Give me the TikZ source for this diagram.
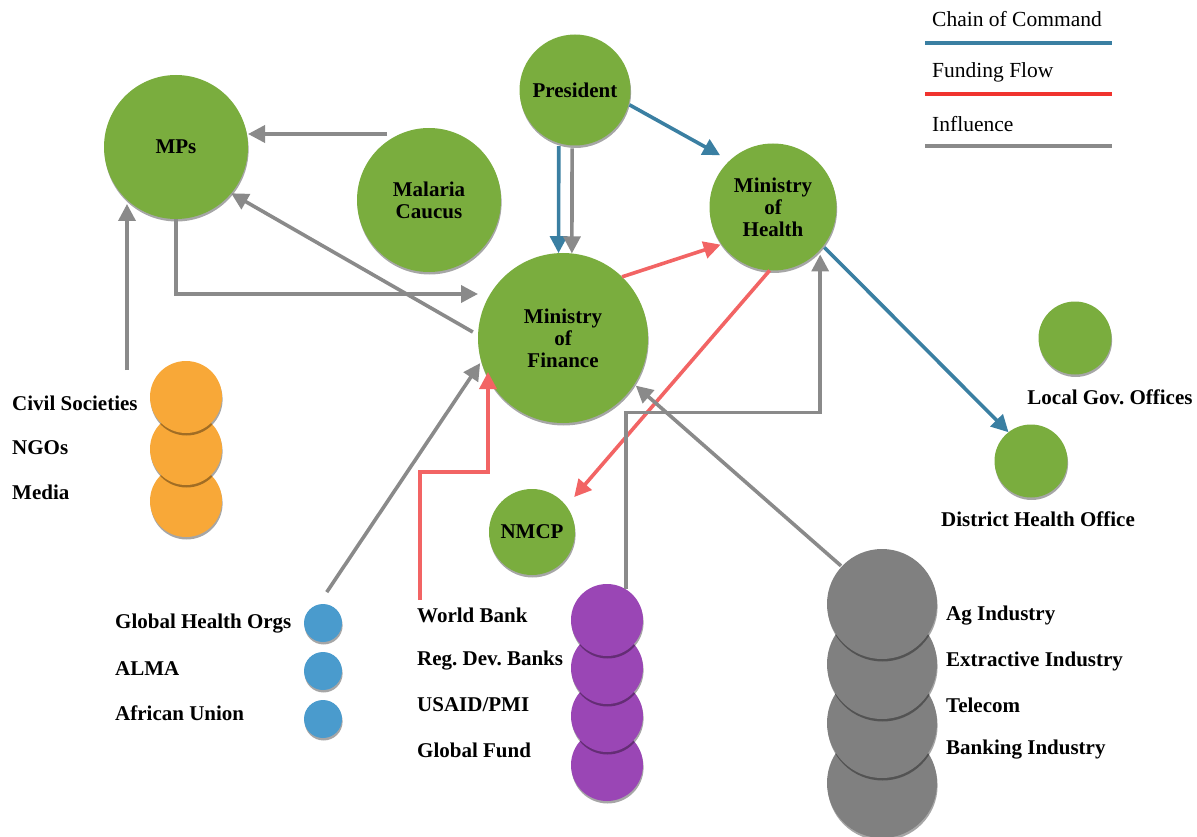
\documentclass[tikz,border=0pt]{standalone}
\usepackage{fontspec}
\setmainfont{Liberation Serif}
\usetikzlibrary{arrows.meta,shadows,calc}
\definecolor{cgreen}{HTML}{7AAD3E}
\definecolor{corange}{HTML}{F8A838}
\definecolor{cblue}{HTML}{4A9BCD}
\definecolor{cpurple}{HTML}{9A46B5}
\definecolor{cgrey}{HTML}{808080}
\definecolor{agrey}{HTML}{8A8A8A}
\definecolor{ablue}{HTML}{3A7FA2}
\definecolor{ared}{HTML}{F26464}
\definecolor{lred}{HTML}{F0332E}
\newcommand\lblfont{\fontsize{21}{22}\selectfont\bfseries}
\newcommand\legfont{\fontsize{21.5}{24}\selectfont}
\frenchspacing
\begin{document}
\begin{tikzpicture}[x=1pt,y=-1pt,
  bub/.style={circle, draw=none, outer sep=0pt, inner sep=0pt, align=center, font=\lblfont,
    drop shadow={shadow xshift=0.6pt, shadow yshift=-2.5pt, opacity=0.35, fill=black}},
  gbub/.style={bub, fill=cgreen},
  lab/.style={font=\lblfont, inner sep=0pt, anchor=west},
  tip/.style={-{Triangle[length=17pt,width=17pt]}},
  infl/.style={draw=agrey, line width=3.6pt, tip},
  cmd/.style={draw=ablue, line width=3.6pt, tip},
  fund/.style={draw=ared, line width=3.6pt, tip},
  legline/.style={line width=4pt}
]
\useasboundingbox (0,0) rectangle (1197,837);

% legend
\node[font=\legfont, inner sep=0pt, anchor=west] (lg1) at (932,19) {Chain of Command};
\node[font=\legfont, inner sep=0pt, anchor=west] (lg2) at (932,72) {Funding Flow};
\node[font=\legfont, inner sep=0pt, anchor=west] (lg3) at (932,124) {Influence};
\coordinate (l1a) at (925,43); \coordinate (l1b) at (1112,43);
\coordinate (l2a) at (925,94); \coordinate (l2b) at (1112,94);
\coordinate (l3a) at (925,146); \coordinate (l3b) at (1112,146);
\draw[legline, draw=ablue] (l1a) -- (l1b);
\draw[legline, draw=lred] (l2a) -- (l2b);
\draw[legline, draw=agrey] (l3a) -- (l3b);

% main nodes
\node[gbub, minimum size=144pt] (mps) at (176,147) {MPs};
\node[gbub, minimum size=144pt] (cauc) at (429,200) {Malaria\\Caucus};
\node[gbub, minimum size=111pt] (pres) at (575,90) {President};
\node[gbub, minimum size=127pt] (moh) at (773,207) {Ministry\\of\\Health};
\node[gbub, minimum size=170pt] (mof) at (563,338) {Ministry\\of\\Finance};
\node[gbub, minimum size=86pt] (nmcp) at (532,532) {NMCP};
\node[gbub, minimum size=73pt] (lgo) at (1075,338) {};
\node[gbub, minimum size=73pt] (dho) at (1031,461) {};
\node[font=\lblfont, inner sep=0pt] (lgolab) at (1110,397) {Local Gov. Offices};
\node[font=\lblfont, inner sep=0pt] (dholab) at (1038,519) {District Health Office};

% orange stack
\node[bub, fill=corange, minimum size=72pt] (med) at (186,501) {};
\node[bub, fill=corange, minimum size=72pt] (ngo) at (186,449) {};
\node[bub, fill=corange, minimum size=72pt] (cs) at (186,397) {};
\node[lab] (cslab) at (12,403) {Civil Societies};
\node[lab] (ngolab) at (12,448) {NGOs};
\node[lab] (medlab) at (12,492) {Media};

% blue small
\node[bub, fill=cblue, minimum size=38pt] (gho) at (323,623) {};
\node[bub, fill=cblue, minimum size=38pt] (alma) at (323,671) {};
\node[bub, fill=cblue, minimum size=38pt] (au) at (323,719) {};
\node[lab] (gholab) at (115,624) {Global Health Orgs};
\node[lab] (almalab) at (115,669) {ALMA};
\node[lab] (aulab) at (115,713) {African Union};

% purple stack
\node[bub, fill=cpurple, minimum size=72pt] (gf) at (607,765) {};
\node[bub, fill=cpurple, minimum size=72pt] (usaid) at (607,716) {};
\node[bub, fill=cpurple, minimum size=72pt] (rdb) at (607,668) {};
\node[bub, fill=cpurple, minimum size=72pt] (wb) at (607,620) {};
\node[lab] (wblab) at (417,615) {World Bank};
\node[lab] (rdblab) at (417,661) {Reg. Dev. Banks};
\node[lab] (usaidlab) at (417,705) {USAID/PMI};
\node[lab] (gflab) at (417,750) {Global Fund};

% grey stack
\node[bub, fill=cgrey, minimum size=110pt] (bank) at (882,783) {};
\node[bub, fill=cgrey, minimum size=110pt] (tel) at (882,723) {};
\node[bub, fill=cgrey, minimum size=110pt] (ext) at (882,664) {};
\node[bub, fill=cgrey, minimum size=110pt] (ag) at (882,604) {};
\node[lab] (aglab) at (946,616) {Ag Industry};
\node[lab] (extlab) at (946,661) {Extractive Industry};
\node[lab] (tellab) at (946,705) {Telecom};
\node[lab] (banklab) at (946,750) {Banking Industry};

% helper coordinates
\coordinate (caucout) at (387,134);
\coordinate (mofin) at (478,294);
\coordinate (csout) at (127,370);
\coordinate (mpsin) at (127,204);
\coordinate (wbout) at (420,600);
\coordinate (mofwb) at (488,372);

% connectors
\draw[infl] (caucout) -- (caucout -| mps.east);
\draw[infl, shorten <=6pt] (mof.178) -- (mps.-40);
\draw[infl] (mps.south) |- (mofin);
\draw[infl] (csout) -- (mpsin);
\draw[cmd, shorten <=3pt] (pres.-107) -- (mof.93.4);
\draw[infl, shorten <=3pt] (pres.-93) -- (mof.84.6);
\draw[cmd, shorten <=1pt, shorten >=11pt] (pres.-15) -- (moh.133);
\draw[fund, shorten >=1pt] (mof.46) -- (moh.-144);
\draw[fund, shorten >=12pt] (moh.-93) -- (nmcp.37);
\draw[cmd, shorten <=2pt] (moh.-38) -- (dho.128);
\draw[infl, shorten <=15pt, shorten >=2pt] (gho.104) -- (mof.-164);
\draw[fund] (wbout) -- ++(0,-128) -| (mofwb);
\draw[infl, shorten >=5pt] (wb.58) -- ++(0,-177) -| (moh.-42);
\draw[infl, shorten <=1pt, shorten >=2pt] (ag.137) -- (mof.-33);
\end{tikzpicture}
\end{document}
